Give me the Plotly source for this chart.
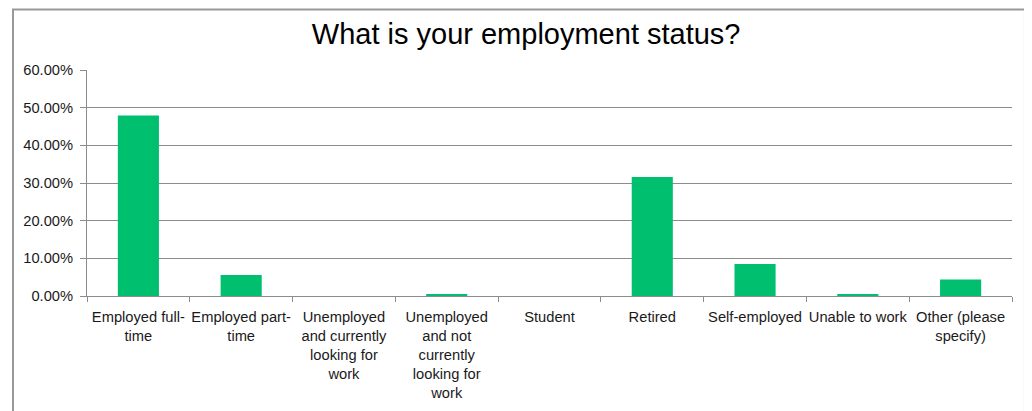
import plotly.graph_objects as go

categories = [
    'Employed full-<br>time',
    'Employed part-<br>time',
    'Unemployed<br>and currently<br>looking for<br>work',
    'Unemployed<br>and not<br>currently<br>looking for<br>work',
    'Student',
    'Retired',
    'Self-employed',
    'Unable to work',
    'Other (please<br>specify)',
]
shares = [0.479, 0.056, 0.0, 0.003, 0.0, 0.316, 0.085, 0.003, 0.044]
y_ticks = [0, 0.1, 0.2, 0.3, 0.4, 0.5, 0.6]

fig = go.Figure()
fig.add_trace(go.Bar(x=categories, y=shares, marker_color='#00BF6F',
                     marker_line_width=0, width=0.4))

fig.update_xaxes(showline=True, linewidth=1, linecolor='#8c8c8c',
                 ticks='outside', tickson='boundaries', ticklen=5,
                 tickcolor='#8c8c8c', showgrid=False, tickangle=0,
                 automargin=False, ticklabelstandoff=7,
                 tickfont=dict(family='Liberation Sans, Arial', size=14.7, color='#1a1a1a'))
fig.update_yaxes(range=[0, 0.6], tickvals=y_ticks, tickformat='.2%',
                 showline=True, linewidth=1, linecolor='#8c8c8c',
                 ticks='outside', ticklen=6, tickcolor='#8c8c8c',
                 gridcolor='#8c8c8c', gridwidth=1, zeroline=False,
                 automargin=False, ticklabelstandoff=4,
                 tickfont=dict(family='Liberation Sans, Arial', size=14.7, color='#1a1a1a'))

# page body adds an 8px offset, so the figure is sized to fit inside the window
fig.update_layout(
    title=dict(text='What is your employment status?', x=0.506, xanchor='center',
               y=0.935, yanchor='middle', automargin=False,
               font=dict(family='Liberation Sans, Arial', size=29, color='#000')),
    plot_bgcolor='white', paper_bgcolor='white',
    width=1024, height=403,
    margin=dict(l=79, r=20, t=62, b=115),
    showlegend=False,
    shapes=[dict(type='rect', xref='paper', yref='paper',
                 x0=-0.08, x1=1.014, y0=-0.7, y1=1.268,
                 line=dict(color='#999999', width=2), layer='below')],
)

fig.write_html('out.html')
